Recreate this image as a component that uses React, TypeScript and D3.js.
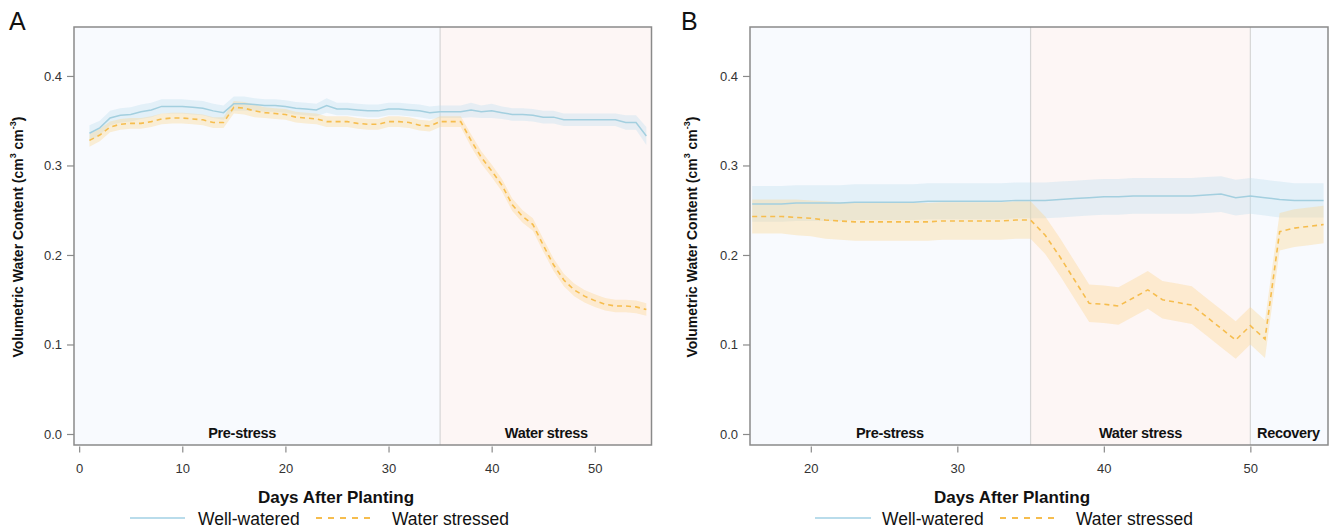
import React, { useEffect, useRef } from "react";
import * as d3 from "d3";

// ---------- DATA ----------
const daysA = [1,2,3,4,5,6,7,8,9,10,11,12,13,14,15,16,17,18,19,20,21,22,23,24,25,26,27,28,29,30,31,32,33,34,35,36,37,38,39,40,41,42,43,44,45,46,47,48,49,50,51,52,53,54,55];
const wellA = [0.336,0.342,0.353,0.356,0.357,0.360,0.362,0.366,0.366,0.366,0.365,0.364,0.361,0.359,0.369,0.369,0.368,0.367,0.367,0.366,0.364,0.363,0.362,0.367,0.363,0.363,0.362,0.361,0.361,0.363,0.363,0.362,0.361,0.359,0.360,0.360,0.360,0.362,0.360,0.361,0.359,0.357,0.357,0.356,0.354,0.354,0.351,0.351,0.351,0.351,0.351,0.351,0.348,0.348,0.333];
const wellSeA = [0.009,0.008,0.008,0.008,0.008,0.008,0.008,0.008,0.008,0.008,0.008,0.008,0.008,0.008,0.008,0.008,0.007,0.007,0.007,0.007,0.007,0.007,0.007,0.008,0.007,0.007,0.007,0.007,0.007,0.007,0.007,0.007,0.007,0.007,0.007,0.007,0.007,0.008,0.007,0.008,0.007,0.007,0.007,0.007,0.007,0.007,0.007,0.007,0.007,0.007,0.007,0.007,0.008,0.008,0.010];
const stressA = [0.328,0.334,0.343,0.346,0.347,0.347,0.349,0.352,0.353,0.353,0.352,0.351,0.348,0.348,0.365,0.364,0.361,0.359,0.358,0.357,0.354,0.353,0.352,0.349,0.349,0.349,0.347,0.346,0.346,0.349,0.349,0.348,0.345,0.344,0.349,0.349,0.349,0.328,0.309,0.294,0.278,0.256,0.243,0.234,0.211,0.189,0.172,0.161,0.154,0.149,0.145,0.143,0.143,0.142,0.139];
const stressSeA = [0.007,0.007,0.006,0.006,0.006,0.006,0.006,0.006,0.006,0.006,0.006,0.006,0.006,0.006,0.007,0.007,0.007,0.006,0.006,0.006,0.006,0.006,0.006,0.006,0.006,0.006,0.006,0.006,0.006,0.006,0.006,0.006,0.006,0.006,0.006,0.006,0.006,0.007,0.007,0.007,0.007,0.007,0.007,0.007,0.007,0.007,0.007,0.007,0.007,0.007,0.007,0.007,0.007,0.007,0.007];

const daysB = [16,17,18,19,20,21,22,23,24,25,26,27,28,29,30,31,32,33,34,35,36,37,38,39,40,41,42,43,44,45,46,47,48,49,50,51,52,53,54,55];
const wellB = [0.257,0.257,0.257,0.258,0.258,0.258,0.258,0.259,0.259,0.259,0.259,0.259,0.260,0.260,0.260,0.260,0.260,0.260,0.261,0.261,0.261,0.262,0.263,0.264,0.265,0.265,0.266,0.266,0.266,0.266,0.266,0.267,0.268,0.264,0.266,0.264,0.262,0.261,0.261,0.261];
const wellSeB = [0.020,0.020,0.020,0.020,0.020,0.020,0.020,0.020,0.020,0.020,0.020,0.020,0.020,0.020,0.020,0.020,0.020,0.020,0.020,0.020,0.020,0.020,0.020,0.020,0.020,0.020,0.020,0.020,0.020,0.020,0.020,0.020,0.020,0.020,0.020,0.020,0.020,0.019,0.019,0.019];
const stressB = [0.243,0.243,0.243,0.242,0.241,0.239,0.238,0.237,0.237,0.237,0.237,0.237,0.237,0.238,0.238,0.238,0.238,0.238,0.239,0.239,0.222,0.198,0.172,0.146,0.145,0.143,0.152,0.161,0.150,0.147,0.144,0.131,0.118,0.105,0.121,0.106,0.226,0.230,0.232,0.234];
const stressSeB = [0.019,0.019,0.019,0.020,0.020,0.021,0.021,0.021,0.021,0.021,0.021,0.021,0.021,0.021,0.021,0.021,0.021,0.021,0.021,0.021,0.021,0.021,0.021,0.021,0.021,0.021,0.021,0.021,0.021,0.021,0.021,0.021,0.021,0.021,0.021,0.021,0.021,0.021,0.021,0.021];

const yTicks = [0, 0.1, 0.2, 0.3, 0.4];
const xTicksA = [0, 10, 20, 30, 40, 50];
const xTicksB = [20, 30, 40, 50];

const phasesA = [
  { name: "Pre-stress", start: -0.5, end: 35, labelAt: 15.8, kind: "pre" },
  { name: "Water stress", start: 35, end: 55.5, labelAt: 45.3, kind: "stress" },
];
const phasesB = [
  { name: "Pre-stress", start: 15.85, end: 35, labelAt: 25.4, kind: "pre" },
  { name: "Water stress", start: 35, end: 50, labelAt: 42.5, kind: "stress" },
  { name: "Recovery", start: 50, end: 55.3, labelAt: 52.6, kind: "pre" },
];

const seriesNames = ["Well-watered", "Water stressed"];

// ---------- STYLE ----------
const FONT = "'Liberation Sans', Arial, Helvetica, sans-serif";
const BLUE = "#a3cfdf";
const BLUE_FILL = "#bfe0ef";
const ORANGE = "#f6bd4e";
const ORANGE_FILL = "#fbd38a";
const PHASE_FILL: Record<string, string> = { pre: "#f8fafe", stress: "#fdf6f5" };

const panels = [
  {
    letter: "A", letterX: 9, left: 74, right: 651.5, xDomain: [-0.5, 55.5],
    days: daysA, well: wellA, wellSe: wellSeA, stress: stressA, stressSe: stressSeA,
    phases: phasesA, xTicks: xTicksA, yTitleX: 18, xTitleX: 336,
    legend: { line1: [130, 185], text1: 198, line2: [316, 372], text2: 392 },
  },
  {
    letter: "B", letterX: 681, left: 750, right: 1328, xDomain: [15.85, 55.3],
    days: daysB, well: wellB, wellSe: wellSeB, stress: stressB, stressSe: stressSeB,
    phases: phasesB, xTicks: xTicksB, yTitleX: 692, xTitleX: 1012,
    legend: { line1: [815, 871], text1: 882, line2: [1000, 1056], text2: 1076 },
  },
];

const TOP = 27;
const BOTTOM = 445;

export default function App() {
  const ref = useRef<SVGSVGElement | null>(null);

  useEffect(() => {
    const svg = d3.select(ref.current);
    svg.selectAll("*").remove();

    panels.forEach((p, pi) => {
      const g = svg.append("g");
      const x = d3.scaleLinear().domain(p.xDomain).range([p.left, p.right]);
      const y = d3.scaleLinear().domain([-0.0123, 0.4547]).range([BOTTOM, TOP]);

      const clipId = `clip-${pi}`;
      svg.append("defs").append("clipPath").attr("id", clipId)
        .append("rect").attr("x", p.left).attr("y", TOP)
        .attr("width", p.right - p.left).attr("height", BOTTOM - TOP);

      const plot = g.append("g").attr("clip-path", `url(#${clipId})`);

      p.phases.forEach((ph) => {
        plot.append("rect")
          .attr("x", x(ph.start)).attr("y", TOP)
          .attr("width", x(ph.end) - x(ph.start)).attr("height", BOTTOM - TOP)
          .attr("fill", PHASE_FILL[ph.kind]);
      });
      p.phases.slice(1).forEach((ph) => {
        plot.append("line")
          .attr("x1", x(ph.start)).attr("x2", x(ph.start))
          .attr("y1", TOP).attr("y2", BOTTOM)
          .attr("stroke", "#d6d6d6").attr("stroke-width", 1.2);
      });

      const wellData = p.days.map((d, i) => ({ day: d, v: p.well[i], se: p.wellSe[i] }));
      const stressData = p.days.map((d, i) => ({ day: d, v: p.stress[i], se: p.stressSe[i] }));

      const area = d3.area<any>()
        .x((d) => x(d.day)).y0((d) => y(d.v - d.se)).y1((d) => y(d.v + d.se));
      const line = d3.line<any>().x((d) => x(d.day)).y((d) => y(d.v));

      plot.append("path").attr("d", area(wellData) as string)
        .attr("fill", BLUE_FILL).attr("fill-opacity", 0.38);
      plot.append("path").attr("d", area(stressData) as string)
        .attr("fill", ORANGE_FILL).attr("fill-opacity", 0.35);

      plot.append("path").attr("d", line(wellData) as string)
        .attr("fill", "none").attr("stroke", BLUE).attr("stroke-width", 1.5);
      plot.append("path").attr("d", line(stressData) as string)
        .attr("fill", "none").attr("stroke", ORANGE).attr("stroke-width", 1.6)
        .attr("stroke-dasharray", "5,4");

      p.phases.forEach((ph) => {
        g.append("text")
          .attr("x", x(ph.labelAt)).attr("y", 438)
          .attr("text-anchor", "middle")
          .attr("font-family", FONT).attr("font-weight", "bold")
          .attr("font-size", 14.5).attr("letter-spacing", -0.3)
          .attr("fill", "#111").text(ph.name);
      });

      g.append("rect")
        .attr("x", p.left).attr("y", TOP)
        .attr("width", p.right - p.left).attr("height", BOTTOM - TOP)
        .attr("fill", "none").attr("stroke", "#8a8a8a").attr("stroke-width", 1.5);

      const yAxis = d3.axisLeft(y).tickValues(yTicks).tickFormat(d3.format(".1f"))
        .tickSize(7).tickPadding(5);
      const ya = g.append("g").attr("transform", `translate(${p.left},0)`).call(yAxis);
      ya.select(".domain").remove();
      ya.selectAll("line").attr("stroke", "#8a8a8a").attr("stroke-width", 1.2);
      ya.selectAll("text").attr("font-family", FONT).attr("font-size", 13).attr("fill", "#333");

      const xAxis = d3.axisBottom(x).tickValues(p.xTicks).tickFormat(d3.format("d"))
        .tickSize(6).tickPadding(11);
      const xa = g.append("g").attr("transform", `translate(0,${BOTTOM + 1.5})`).call(xAxis);
      xa.select(".domain").remove();
      xa.selectAll("line").attr("stroke", "#8a8a8a").attr("stroke-width", 1.2);
      xa.selectAll("text").attr("font-family", FONT).attr("font-size", 13).attr("fill", "#333");

      const yt = g.append("text")
        .attr("transform", `translate(${p.yTitleX},237) rotate(-90)`)
        .attr("text-anchor", "middle").attr("dominant-baseline", "central")
        .attr("font-family", FONT).attr("font-weight", "bold").attr("font-size", 14)
        .attr("fill", "#111");
      yt.append("tspan").text("Volumetric Water Content (cm");
      yt.append("tspan").attr("baseline-shift", "super").attr("font-size", 9).text("3");
      yt.append("tspan").text(" cm");
      yt.append("tspan").attr("baseline-shift", "super").attr("font-size", 9).text("-3");
      yt.append("tspan").text(")");

      g.append("text")
        .attr("x", p.xTitleX).attr("y", 503)
        .attr("text-anchor", "middle")
        .attr("font-family", FONT).attr("font-weight", "bold").attr("font-size", 17)
        .attr("fill", "#111").text("Days After Planting");

      g.append("text")
        .attr("x", p.letterX).attr("y", 30)
        .attr("font-family", FONT).attr("font-size", 25).attr("fill", "#111")
        .text(p.letter);

      const L = p.legend;
      g.append("line").attr("x1", L.line1[0]).attr("x2", L.line1[1])
        .attr("y1", 518).attr("y2", 518)
        .attr("stroke", "#b9dceb").attr("stroke-width", 2);
      g.append("text").attr("x", L.text1).attr("y", 524.5)
        .attr("font-family", FONT).attr("font-size", 17.5).attr("fill", "#111")
        .text(seriesNames[0]);
      g.append("line").attr("x1", L.line2[0]).attr("x2", L.line2[1])
        .attr("y1", 518).attr("y2", 518)
        .attr("stroke", ORANGE).attr("stroke-width", 2).attr("stroke-dasharray", "6,6");
      g.append("text").attr("x", L.text2).attr("y", 524.5)
        .attr("font-family", FONT).attr("font-size", 17.5).attr("fill", "#111")
        .text(seriesNames[1]);
    });
  }, []);

  return (
    <svg
      ref={ref}
      width={1336}
      height={531}
      style={{ position: "absolute", left: 0, top: 0, background: "#fff" }}
    />
  );
}
